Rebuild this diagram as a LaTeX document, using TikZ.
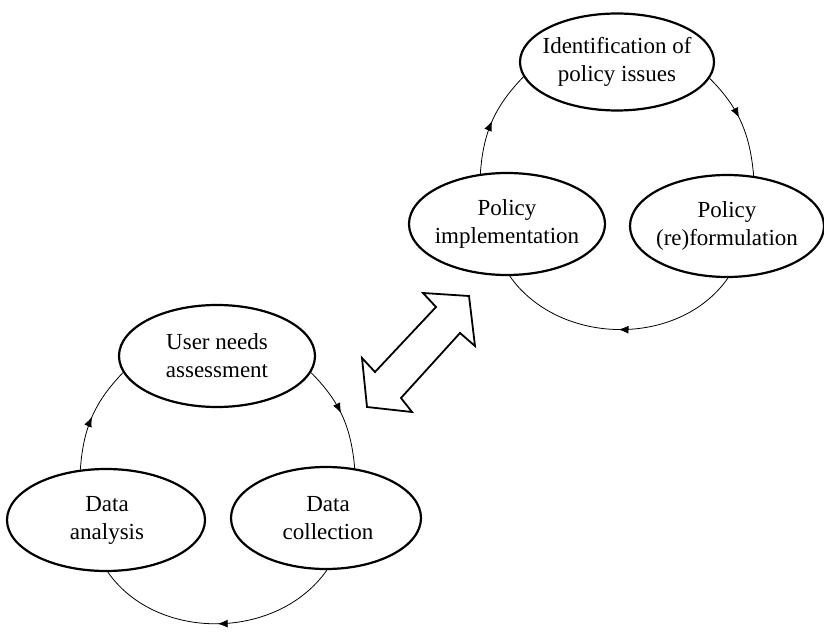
\documentclass[tikz,border=0pt]{standalone}
\usepackage{fontspec}
\setmainfont{Liberation Serif}
\usetikzlibrary{shapes.geometric,arrows.meta,decorations.markings}
\begin{document}
\begin{tikzpicture}[x=1pt,y=1pt,
  ell/.style={ellipse,draw,line width=2.2pt,inner sep=0pt,minimum width=196pt,minimum height=102pt},
  lbl/.style={align=center,font=\fontsize{23}{28}\selectfont,inner sep=0pt},
  cyc/.style={line width=0.8pt,postaction={decorate},
    decoration={markings,mark=at position #1 with {\arrow{Latex[length=10pt,width=8pt]}}}},
  cyc/.default=0.5,
  bigarrow/.style={draw,line width=1.8pt,line join=miter}]
\useasboundingbox (0,0) rectangle (824,635);
% top cycle
\node[ell,minimum width=194pt,minimum height=97pt] (ident) at (617,573) {};
\node[lbl] (identt) at (617,573) {Identification of\\policy issues};
\node[ell] (impl) at (507,411) {};
\node[lbl] (implt) at (507,411) {Policy\\implementation};
\node[ell,minimum width=194pt] (reform) at (727,409) {};
\node[lbl] (reformt) at (727,409) {Policy\\(re)formulation};
\draw[cyc=0.5] (impl.118) to[out=86,in=226] (ident.189);
\draw[cyc=0.45] (ident.-10) to[out=-45,in=95] (reform.62);
\draw[cyc=0.5] (reform.-89) to[out=-125,in=-55] (impl.-87);
% bottom cycle
\node[ell] (user) at (217,279) {};
\node[lbl] (usert) at (217,279) {User needs\\assessment};
\node[ell,minimum width=198pt] (anal) at (106,115) {};
\node[lbl] (analt) at (107,115) {Data\\analysis};
\node[ell,minimum width=190pt] (coll) at (326,117) {};
\node[lbl] (collt) at (328,117) {Data\\collection};
\draw[cyc=0.5] (anal.117) to[out=86,in=226] (user.190);
\draw[cyc=0.47] (user.-10) to[out=-45,in=95] (coll.60);
\draw[cyc=0.5] (coll.-89) to[out=-125,in=-55] (anal.-88);
% double arrow
\draw[bigarrow] (423,342) -- (469,339) -- (475,289) -- (460,302) -- (401,237)
  -- (412,223) -- (367,228) -- (362,277) -- (375,263) -- (436,328) -- cycle;
\end{tikzpicture}
\end{document}
